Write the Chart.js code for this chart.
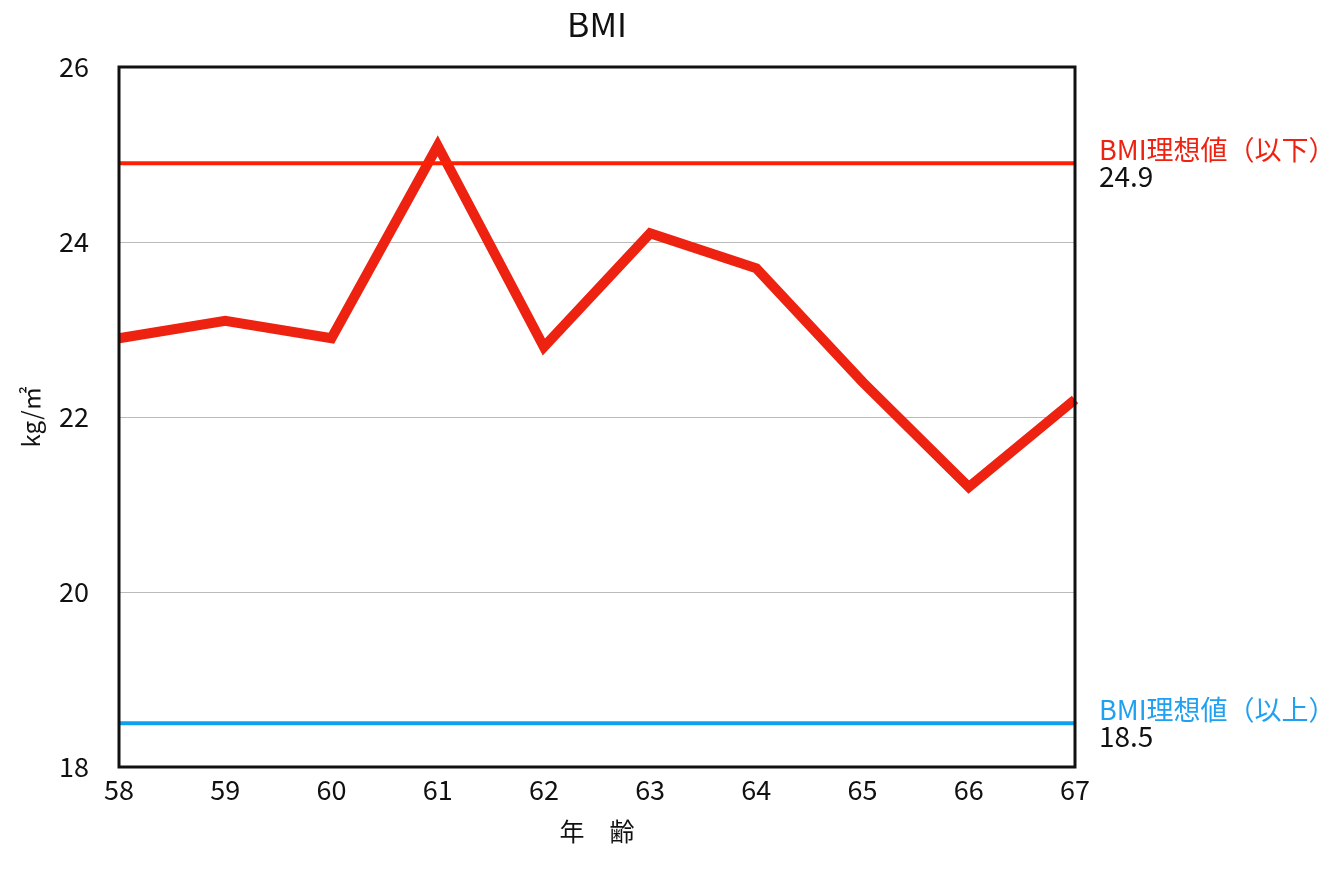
<!DOCTYPE html>
<html>
<head>
<meta charset="utf-8">
<script src="https://cdn.jsdelivr.net/npm/chart.js@4/dist/chart.umd.min.js"></script>
<style>
  html, body { margin: 0; padding: 0; background: #fff; }
  #c { display: block; }
</style>
</head>
<body>
<canvas id="c" width="1329" height="870"></canvas>
<script>
const FONT = '"Noto Sans CJK JP", "Noto Sans", sans-serif';

const chartTitle = 'BMI';
const xTitle = '年　齢';
const yTitle = 'kg/㎡';
const ages = ['58', '59', '60', '61', '62', '63', '64', '65', '66', '67'];
const bmi = [22.9, 23.1, 22.9, 25.1, 22.8, 24.1, 23.7, 22.4, 21.2, 22.2];
const yMin = 18, yMax = 26, yStep = 2;
const refValues = [24.9, 18.5];
const refLabels = ['BMI理想値（以下）', 'BMI理想値（以上）'];
const refColors = ['#ff2200', '#10a0f0'];
const refTextColors = ['#ee2211', '#20a0f0'];

const refLinesPlugin = {
  id: 'refLines',
  afterDatasetsDraw(chart) {
    const { ctx, chartArea: a, scales: { y } } = chart;
    ctx.save();
    refValues.forEach((v, i) => {
      const py = y.getPixelForValue(v);
      ctx.strokeStyle = refColors[i];
      ctx.lineWidth = 4;
      ctx.beginPath();
      ctx.moveTo(a.left, py);
      ctx.lineTo(a.right, py);
      ctx.stroke();
      ctx.font = '27px ' + FONT;
      ctx.textAlign = 'left';
      ctx.textBaseline = 'alphabetic';
      ctx.fillStyle = refTextColors[i];
      ctx.fillText(refLabels[i], a.right + 24, py - 3);
      ctx.fillStyle = '#111';
      ctx.font = '28px ' + FONT;
      ctx.fillText(String(v), a.right + 24, py + 24);
    });
    // frame
    ctx.strokeStyle = '#111';
    ctx.lineWidth = 3;
    ctx.strokeRect(a.left, a.top, a.right - a.left, a.bottom - a.top);
    // clipped title
    ctx.beginPath();
    ctx.rect(0, 13, chart.width, 40);
    ctx.clip();
    ctx.fillStyle = '#111';
    ctx.font = '34px ' + FONT;
    ctx.textAlign = 'center';
    ctx.fillText(chartTitle, (a.left + a.right) / 2, 37);
    ctx.restore();
  }
};

new Chart(document.getElementById('c'), {
  type: 'line',
  data: {
    labels: ages,
    datasets: [{
      data: bmi,
      borderColor: '#ee2211',
      borderWidth: 10,
      borderJoinStyle: 'miter',
      pointRadius: 0,
      tension: 0,
      fill: false
    }]
  },
  options: {
    responsive: false,
    animation: false,
    devicePixelRatio: 1,
    layout: { padding: { top: 67, right: 254, left: 0, bottom: 0 } },
    plugins: { legend: { display: false }, tooltip: { enabled: false }, title: { display: false } },
    scales: {
      x: {
        grid: { display: false, drawTicks: false },
        border: { display: false },
        ticks: { color: '#111', font: { family: FONT, size: 27 }, padding: 7, maxRotation: 0, autoSkip: false },
        title: { display: true, text: xTitle, color: '#111', font: { family: FONT, size: 25 }, padding: { top: 0, bottom: 24 } },
        afterFit(s) { s.height = 103; }
      },
      y: {
        min: yMin, max: yMax,
        grid: { color: '#bbbbbb', lineWidth: 1, drawTicks: false },
        border: { display: false },
        ticks: { stepSize: yStep, color: '#111', font: { family: FONT, size: 27 }, padding: 30 },
        title: { display: true, text: yTitle, color: '#111', font: { family: FONT, size: 24 }, padding: { top: 16, bottom: 0 } },
        afterFit(s) { s.width = 119; }
      }
    }
  },
  plugins: [refLinesPlugin]
});
</script>
</body>
</html>
